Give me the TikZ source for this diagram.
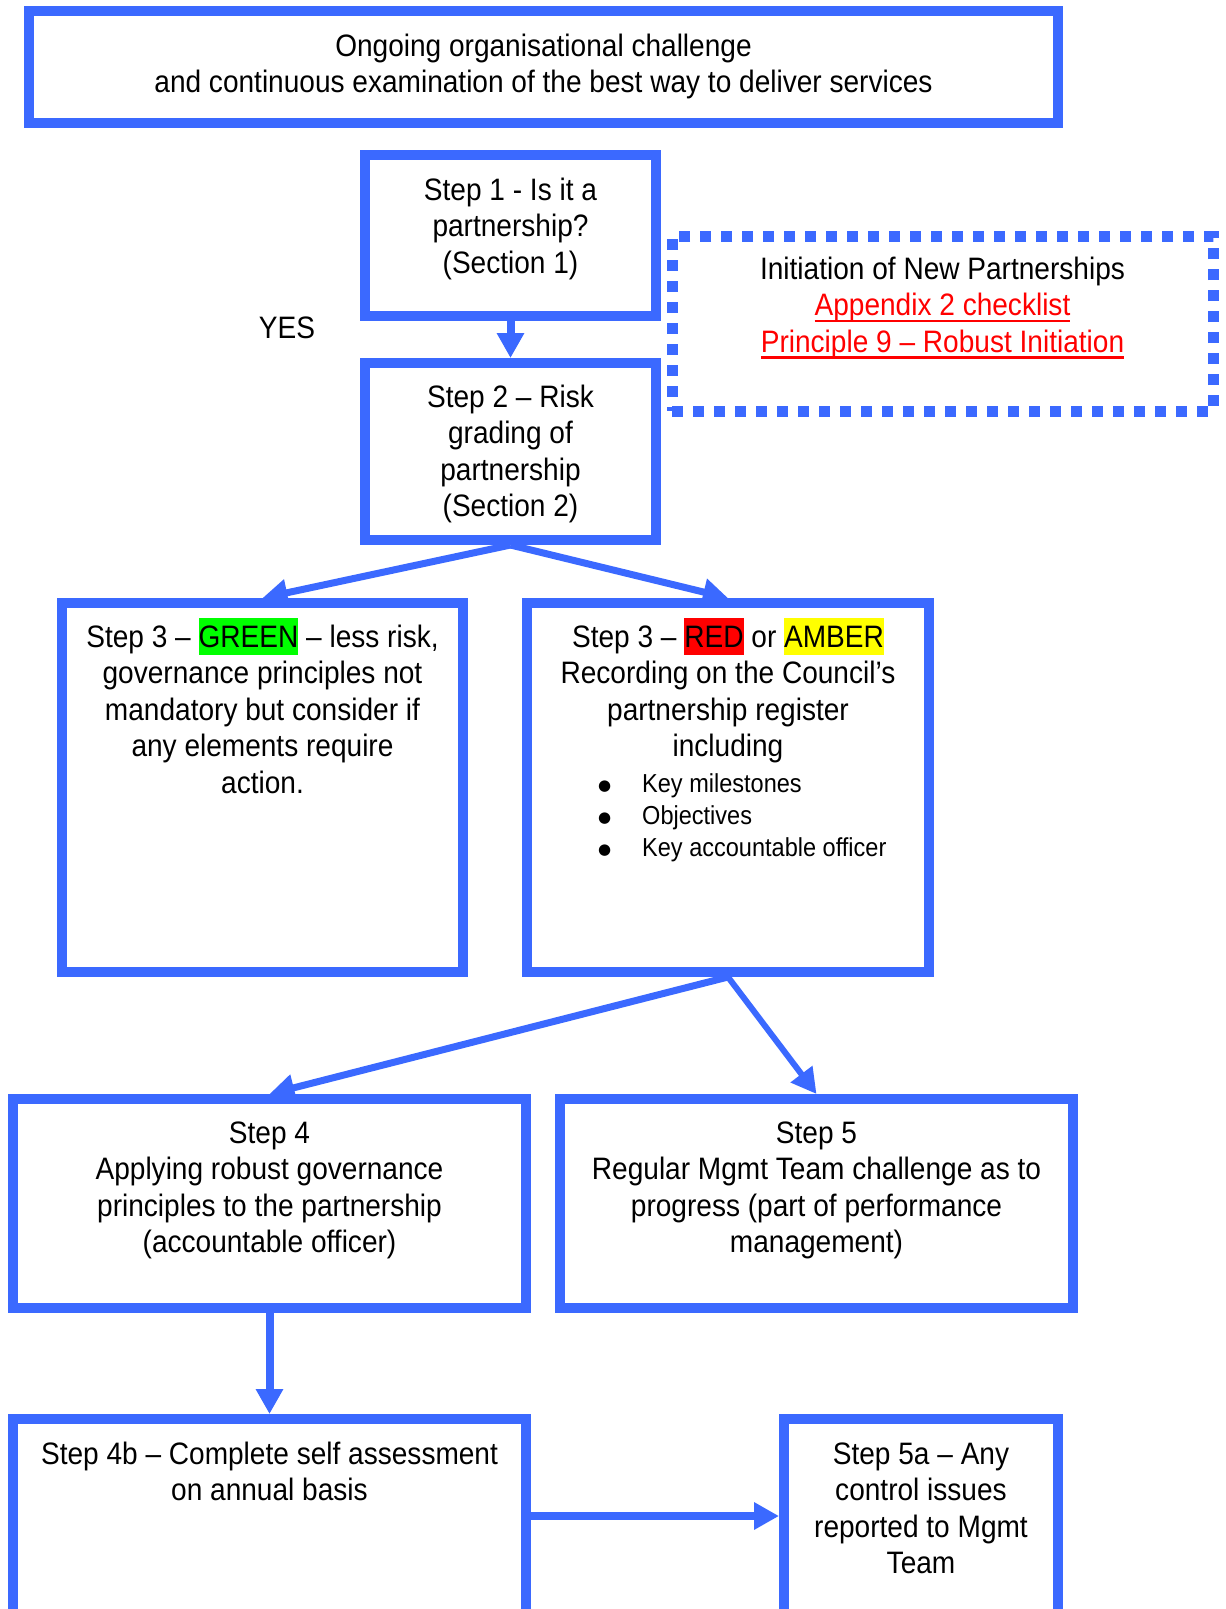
\documentclass[tikz,border=0pt]{standalone}
\usepackage{fontspec}
\setmainfont{Liberation Sans}[FakeStretch=0.905]
\newfontfamily\djv{DejaVu Sans}
\usetikzlibrary{arrows.meta}
\definecolor{bblue}{RGB}{59,105,255}
\definecolor{hlgreen}{RGB}{0,255,0}
\definecolor{hlred}{RGB}{255,0,0}
\definecolor{hlyellow}{RGB}{255,255,0}
\definecolor{linkred}{RGB}{255,0,0}
\newcommand\hlbox[2]{{\setlength\fboxsep{0pt}\colorbox{#1}{\rule[-8pt]{0pt}{37pt}#2}}}
\newcommand\lnk[1]{{\color{linkred}\setbox0\hbox{#1}\rlap{\rule[-6.7pt]{\wd0}{2.7pt}}\box0}}
\newcommand\bul{\makebox[44pt][l]{\raisebox{2pt}{\djv\fontsize{15}{15}\selectfont ●}}}
\tikzset{
  box/.style={draw=bblue, line width=10pt, rectangle, inner sep=0pt},
  dotbox/.style={draw=bblue, line width=11pt, dash pattern=on 11pt off 10pt, rectangle, inner sep=0pt},
  txt/.style={inner sep=0pt, align=center, anchor=north, font=\fontsize{31}{36.5}\selectfont},
  listtxt/.style={inner sep=0pt, align=left, anchor=north west, font=\fontsize{26}{32}\selectfont},
  arr/.style={draw=bblue, line width=8pt, -{Triangle[length=25pt,width=26pt]}}
}
\begin{document}
\begin{tikzpicture}[x=1pt,y=-1pt]
\useasboundingbox (0,0) rectangle (1226,1609);
\fill[white] (0,0) rectangle (1226,1609);
\begin{scope}
\clip (0,0) rectangle (1226,1609);
% boxes
\node[box, minimum width=1029pt, minimum height=112pt] (top) at (543.5,67) {};
\node[box, minimum width=291pt, minimum height=161pt] (step1) at (510.5,235.5) {};
\node[box, minimum width=291pt, minimum height=177pt] (step2) at (510.5,451.5) {};
\node[dotbox, minimum width=541pt, minimum height=175pt] (init) at (942.5,323.5) {};
\node[box, minimum width=401pt, minimum height=369pt] (green) at (262.5,787.5) {};
\node[box, minimum width=402pt, minimum height=369pt] (red) at (728,787.5) {};
\node[box, minimum width=513pt, minimum height=209pt] (step4) at (269.5,1203.5) {};
\node[box, minimum width=513pt, minimum height=209pt] (step5) at (816.5,1203.5) {};
\node[box, minimum width=513pt, minimum height=221pt] (step4b) at (269.5,1529.5) {};
\node[box, minimum width=274pt, minimum height=221pt] (step5a) at (921,1529.5) {};
% texts
\node[txt] (toptxt) at (543.5,30.5) {\strut Ongoing organisational challenge\\and continuous examination of the best way to deliver services};
\node[txt] (step1txt) at (510.5,174.5) {\strut Step 1 - Is it a\\partnership?\\(Section 1)};
\node[txt] (step2txt) at (510.5,381.5) {\strut Step 2 – Risk\\grading of\\partnership\\(Section 2)};
\node[txt] (inittxt) at (942.5,253.5) {\strut Initiation of New Partnerships\\\lnk{Appendix 2 checklist}\\\lnk{Principle 9 – Robust Initiation}};
\node[txt] (greentxt) at (262.5,618) {Step 3 – \hlbox{hlgreen}{GREEN} – less risk,\\governance principles not\\mandatory but consider if\\any elements require\\action.};
\node[txt] (redtxt) at (728,618) {Step 3 – \hlbox{hlred}{RED} or \hlbox{hlyellow}{AMBER}\\Recording on the Council’s\\partnership register\\including};
\node[listtxt] (redlist) at (598,769.6) {\strut\bul Key milestones\\\bul Objectives\\\bul Key accountable officer};
\node[txt] (step4txt) at (269.5,1117.5) {\strut Step 4\\Applying robust governance\\principles to the partnership\\(accountable officer)};
\node[txt] (step5txt) at (816.5,1117.5) {\strut Step 5\\Regular Mgmt Team challenge as to\\progress (part of performance\\management)};
\node[txt] (step4btxt) at (269.5,1438.5) {\strut Step 4b – Complete self assessment\\on annual basis};
\node[txt] (step5atxt) at (921,1438.5) {\strut Step 5a – Any\\control issues\\reported to Mgmt\\Team};
\node[inner sep=0pt, anchor=base, font=\fontsize{31}{36.5}\selectfont] (yes) at (287,338) {YES};
% connectors
\draw[arr] (step1.south) -- (step2.north);
\draw[arr, line width=7pt] (step2.south) -- (green.north);
\draw[arr, line width=7pt] (step2.south) -- (red.north);
\draw[arr, line width=7pt] (red.south) -- (step4.north);
\draw[arr, line width=6pt] (red.south) -- (step5.north);
\draw[arr] (step4.south) -- (step4b.north);
\draw[arr] ([yshift=13.5pt]step4b.east) -- ([yshift=13.5pt]step5a.west);
\end{scope}
\end{tikzpicture}
\end{document}
